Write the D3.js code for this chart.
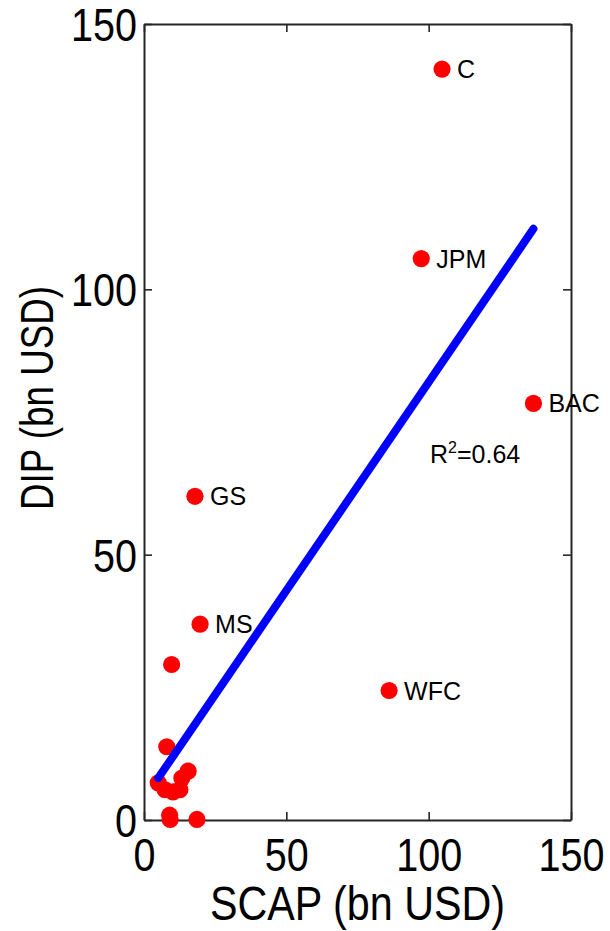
<!DOCTYPE html>
<html>
<head>
<meta charset="utf-8">
<script src="https://cdn.jsdelivr.net/npm/d3@7"></script>
<style>
  html, body { margin: 0; padding: 0; background: #fff; }
  svg { display: block; font-family: "Liberation Sans", Arial, Helvetica, sans-serif; }
</style>
</head>
<body>
<div id="chart"></div>
<script>
(function () {
  // ---- data ----
  const labelled = ["C", "JPM", "BAC", "GS", "MS", "WFC"];
  const labelledX = [104.7, 97.4, 136.8, 17.9, 19.7, 86.1];
  const labelledY = [141.5, 105.8, 78.5, 61.0, 36.9, 24.4];

  // small unlabelled banks near the origin
  const smallX = [9.7, 8.0, 5.0, 7.4, 10.2, 12.6, 13.3, 15.5, 9.0, 9.2, 18.6];
  const smallY = [29.3, 13.8, 7.0, 5.7, 5.3, 5.7, 7.9, 9.2, 0.9, 0.1, 0.1];

  // fitted line end points
  const fitX = [5.0, 136.8];
  const fitY = [7.9, 111.4];
  const r2 = "0.64";

  const xTicks = [0, 50, 100, 150];
  const yTicks = [0, 50, 100, 150];

  // ---- layout ----
  const W = 610, H = 931;
  const left = 144, right = 571, top = 24, bottom = 820;

  const svg = d3.select("#chart").append("svg")
    .attr("width", W)
    .attr("height", H);

  const x = d3.scaleLinear().domain([0, 150]).range([left, right]);
  const y = d3.scaleLinear().domain([0, 150]).range([bottom, top]);

  const axisColor = "#262626";
  const tickLen = 8;

  // frame + inward ticks on all four sides
  function styleAxis(g) {
    g.select(".domain").attr("stroke", axisColor).attr("stroke-width", 2);
    g.selectAll(".tick line").attr("stroke", axisColor).attr("stroke-width", 1.6);
  }

  const gx = svg.append("g")
    .attr("transform", `translate(0,${bottom})`)
    .call(d3.axisBottom(x).tickValues(xTicks).tickSize(-tickLen).tickSizeOuter(0).tickPadding(0))
    .call(styleAxis);
  gx.selectAll(".tick text")
    .attr("fill", "#000")
    .style("font-size", "46px")
    .attr("text-anchor", "middle")
    .attr("y", 51)
    .attr("dy", null)
    .attr("transform", "scale(0.86,1)");

  const gy = svg.append("g")
    .attr("transform", `translate(${left},0)`)
    .call(d3.axisLeft(y).tickValues(yTicks).tickSize(-tickLen).tickSizeOuter(0).tickPadding(0))
    .call(styleAxis);
  gy.selectAll(".tick text")
    .attr("fill", "#000")
    .style("font-size", "46px")
    .attr("x", -7 / 0.86)
    .attr("dy", "0.36em")
    .attr("transform", "scale(0.86,1)");

  svg.append("g")
    .attr("transform", `translate(0,${top})`)
    .call(d3.axisTop(x).tickValues(xTicks).tickSize(-tickLen).tickSizeOuter(0).tickFormat(""))
    .call(styleAxis);

  svg.append("g")
    .attr("transform", `translate(${right},0)`)
    .call(d3.axisRight(y).tickValues(yTicks).tickSize(-tickLen).tickSizeOuter(0).tickFormat(""))
    .call(styleAxis);

  // axis titles
  svg.append("text")
    .attr("transform", `translate(${(left + right) / 2},920) scale(0.86,1)`)
    .attr("text-anchor", "middle")
    .style("font-size", "48px")
    .text("SCAP (bn USD)");

  svg.append("text")
    .attr("transform", "translate(53,398) rotate(-90) scale(0.8,1)")
    .attr("text-anchor", "middle")
    .style("font-size", "46px")
    .text("DIP (bn USD)");

  // ---- points ----
  const dotR = 8.6;
  const red = "#ff0000";

  svg.append("g").selectAll("circle")
    .data(d3.range(smallX.length))
    .join("circle")
    .attr("cx", i => x(smallX[i]))
    .attr("cy", i => y(smallY[i]))
    .attr("r", dotR)
    .attr("fill", red);

  const lab = svg.append("g").selectAll("g")
    .data(d3.range(labelled.length))
    .join("g")
    .attr("transform", i => `translate(${x(labelledX[i])},${y(labelledY[i])})`);

  lab.append("circle")
    .attr("r", dotR)
    .attr("fill", red);

  lab.append("text")
    .attr("x", 15)
    .attr("dy", "0.36em")
    .style("font-size", "25px")
    .attr("fill", "#000")
    .text(i => labelled[i]);

  // ---- fitted line ----
  svg.append("line")
    .attr("x1", x(fitX[0]))
    .attr("y1", y(fitY[0]))
    .attr("x2", x(fitX[1]))
    .attr("y2", y(fitY[1]))
    .attr("stroke", "#0000ff")
    .attr("stroke-width", 8)
    .attr("stroke-linecap", "round");

  const rt = svg.append("text")
    .attr("x", 430)
    .attr("y", 463)
    .style("font-size", "25px")
    .attr("fill", "#000");
  rt.append("tspan").text("R");
  rt.append("tspan").attr("dy", -10).style("font-size", "16px").text("2");
  rt.append("tspan").attr("dy", 10).text("=" + r2);
})();
</script>
</body>
</html>
